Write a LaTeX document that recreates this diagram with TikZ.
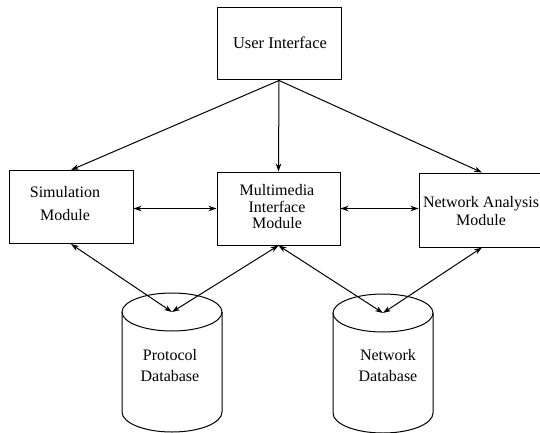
\documentclass[tikz,border=0pt]{standalone}
\usepackage{fontspec}
\setmainfont{Liberation Serif}
\usetikzlibrary{arrows.meta}
\tikzset{
  box/.style={draw,line width=1pt,inner sep=0pt},
  lbl/.style={align=center,inner sep=0pt},
  conn/.style={line width=1pt,-{Stealth[length=8pt,width=5.5pt]}},
  biconn/.style={line width=1pt,{Stealth[length=8pt,width=5.5pt]}-{Stealth[length=8pt,width=5.5pt]}},
  dbcyl/.pic={
    \draw[line width=1pt] (0,0) ellipse [x radius=50,y radius=19];
    \draw[line width=1pt] (-50,0) -- (-50,100)
      arc[start angle=180,end angle=0,x radius=50,y radius=20] -- (50,0);
  }
}
\begin{document}
\begin{tikzpicture}[x=1pt,y=-1pt]
  \clip (0,0) rectangle (540,433);

  % module boxes
  \node[box,minimum width=124pt,minimum height=72pt] (ui)  at (279,44)    {};
  \node[box,minimum width=124pt,minimum height=73pt] (sim) at (71,207)    {};
  \node[box,minimum width=123pt,minimum height=73pt] (mm)  at (278.5,208.5) {};
  \node[box,minimum width=126pt,minimum height=74pt] (na)  at (482,210)   {};

  \node[lbl,font=\fontsize{16.5}{20}\selectfont] (uitxt) at (280,43) {User Interface};
  \node[lbl,font=\fontsize{16}{23}\selectfont] (simtxt) at (65,204) {Simulation\\Module};
  \node[lbl,font=\fontsize{16}{16.5}\selectfont] (mmtxt) at (277,207) {Multimedia\\Interface\\Module};
  \node[lbl,font=\fontsize{16}{18}\selectfont] (natxt) at (481,211) {Network Analysis\\Module};

  % databases
  \pic at (172,312) {dbcyl};
  \pic at (383,313) {dbcyl};
  \coordinate (pdb) at (172,312);
  \coordinate (ndb) at (383,313);
  \node[lbl,font=\fontsize{16}{21}\selectfont] (pdbtxt) at (170,366) {Protocol\\Database};
  \node[lbl,font=\fontsize{16}{21}\selectfont] (ndbtxt) at (388,366) {Network\\Database};

  % connectors
  \draw[conn] (ui.south) -- (sim.north);
  \draw[conn] (ui.south) -- (mm.north);
  \draw[conn] (ui.south) -- (na.north);
  \draw[biconn] (mm.west -| sim.east) -- (mm.west);
  \draw[biconn] (mm.east) -- (mm.east -| na.west);
  \draw[biconn] (sim.south) -- (pdb);
  \draw[biconn] (mm.south) -- (pdb);
  \draw[biconn] (mm.south) -- (ndb);
  \draw[biconn] (na.south) -- (ndb);
\end{tikzpicture}
\end{document}
